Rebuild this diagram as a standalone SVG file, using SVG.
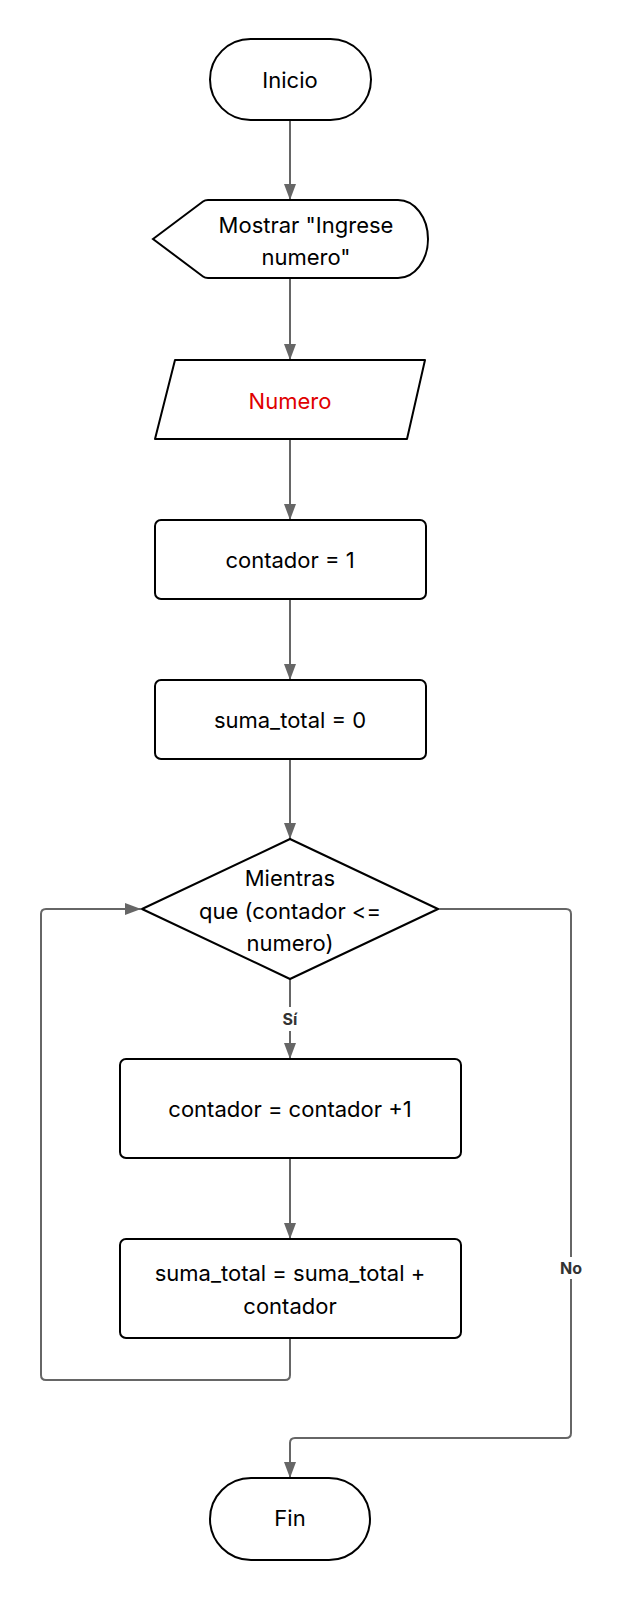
<svg xmlns="http://www.w3.org/2000/svg" width="623" height="1600" viewBox="0 0 623 1600">
<style>
.n{fill:#fff;stroke:#000;stroke-width:2}
.t{font-family:Inter,"Liberation Sans",sans-serif;font-size:22px;fill:#000;text-anchor:middle;dominant-baseline:central}
.c{fill:none;stroke:#666;stroke-width:2}
.l{font-family:Inter,"Liberation Sans",sans-serif;font-size:16px;font-weight:bold;fill:#333;text-anchor:middle;dominant-baseline:central}
</style>
<defs>
<marker id="a" markerUnits="userSpaceOnUse" markerWidth="16" markerHeight="12" refX="16" refY="6" orient="auto">
<path d="M0,0 L16,6 L0,12 z" fill="#666"/>
</marker>
</defs>
<rect width="623" height="1600" fill="#fff"/>
<g id="connectors">
<path class="c" d="M290,120 V200" marker-end="url(#a)"/>
<path class="c" d="M290,278 V360" marker-end="url(#a)"/>
<path class="c" d="M290,439 V520" marker-end="url(#a)"/>
<path class="c" d="M290,598 V680" marker-end="url(#a)"/>
<path class="c" d="M290,759 V839" marker-end="url(#a)"/>
<path class="c" d="M290,979 V1059" marker-end="url(#a)"/>
<path class="c" d="M290,1158 V1239" marker-end="url(#a)"/>
<path class="c" d="M290,1338 V1375 Q290,1380 285,1380 H46 Q41,1380 41,1375 V914 Q41,909 46,909 H141" marker-end="url(#a)"/>
<path class="c" d="M438,909 H566 Q571,909 571,914 V1433 Q571,1438 566,1438 H295 Q290,1438 290,1443 V1478" marker-end="url(#a)"/>
<rect x="278" y="1007" width="24" height="24" fill="#fff"/>
<text class="l" x="290" y="1019">Sí</text>
<rect x="556" y="1257" width="30" height="22" fill="#fff"/>
<text class="l" x="571" y="1268">No</text>
</g>
<g id="inicio">
<rect class="n" x="210" y="39" width="161" height="81" rx="40.5"/>
<text class="t" x="290" y="80">Inicio</text>
</g>
<g id="mostrar">
<path class="n" d="M153,239 L203,201.5 Q205,200 208,200 H398 A30,39 0 0 1 398,278 H208 Q205,278 203,276.5 Z"/>
<text class="t" x="306" y="225">Mostrar "Ingrese</text>
<text class="t" x="306" y="257">numero"</text>
</g>
<g id="leer">
<path class="n" d="M175,360 H425 L407,439 H155 Z" stroke-linejoin="round"/>
<text class="t" x="290" y="401" style="fill:#e00000">Numero</text>
</g>
<g id="contador1">
<rect class="n" x="155" y="520" width="271" height="79" rx="6"/>
<text class="t" x="290" y="560">contador = 1</text>
</g>
<g id="suma0">
<rect class="n" x="155" y="680" width="271" height="79" rx="6"/>
<text class="t" x="290" y="720">suma_total = 0</text>
</g>
<g id="mientras">
<path class="n" d="M290,839 L438,909 L290,979 L142,909 Z" stroke-linejoin="round"/>
<text class="t" x="290" y="878">Mientras</text>
<text class="t" x="290" y="911">que (contador &lt;=</text>
<text class="t" x="290" y="943">numero)</text>
</g>
<g id="incremento">
<rect class="n" x="120" y="1059" width="341" height="99" rx="6"/>
<text class="t" x="290" y="1109">contador = contador +1</text>
</g>
<g id="acumula">
<rect class="n" x="120" y="1239" width="341" height="99" rx="6"/>
<text class="t" x="290" y="1273">suma_total = suma_total +</text>
<text class="t" x="290" y="1306">contador</text>
</g>
<g id="fin">
<rect class="n" x="210" y="1478" width="160" height="82" rx="41"/>
<text class="t" x="290" y="1518">Fin</text>
</g>
</svg>
